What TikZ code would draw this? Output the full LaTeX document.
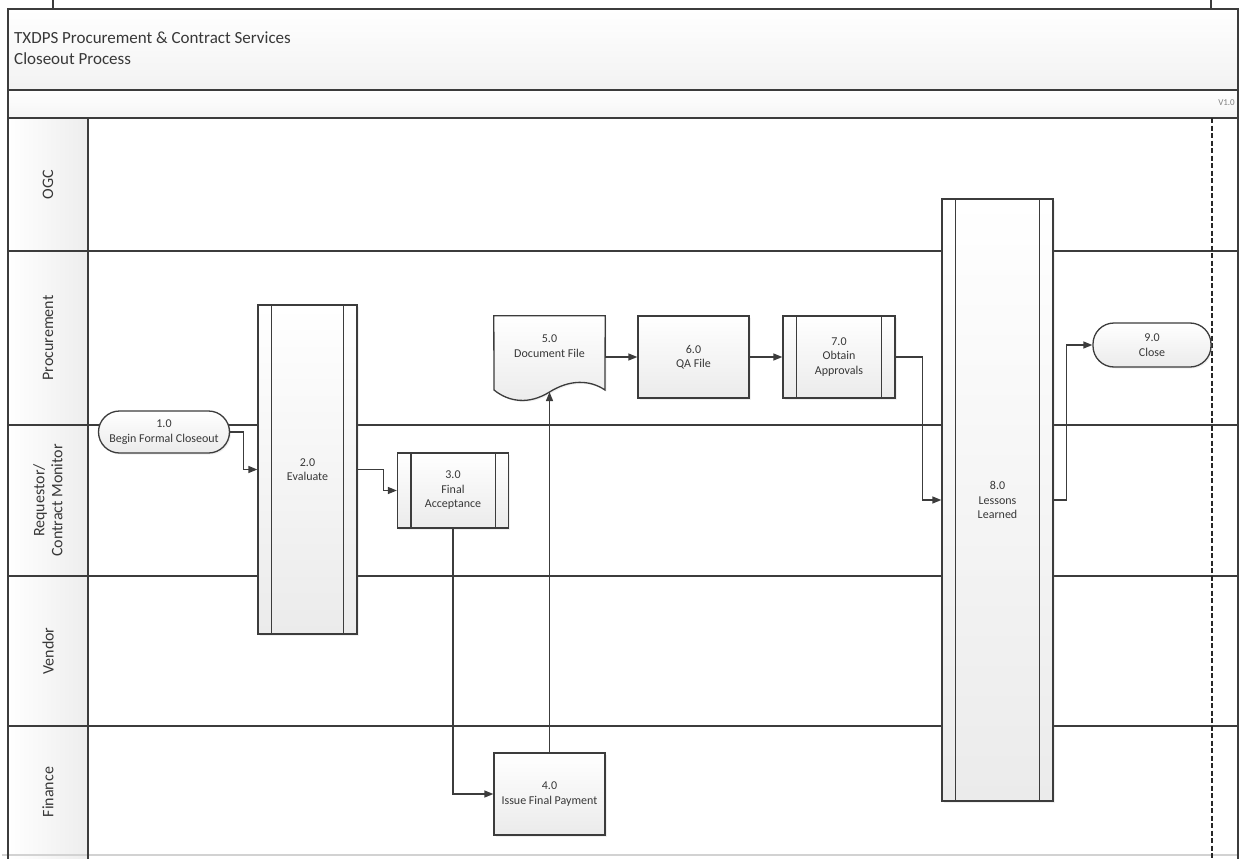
\documentclass[tikz,border=0pt]{standalone}
\usepackage{fontspec}
\setmainfont{Carlito}
\usetikzlibrary{arrows.meta,shapes.misc,shadows,calc}
\definecolor{ln}{HTML}{3C3C3C}
\definecolor{tx}{HTML}{383838}
\definecolor{sh}{HTML}{EBEBEB}
\begin{document}
\begin{tikzpicture}[x=1pt,y=-1pt,
  ln/.style={draw=ln, line width=1.3pt},
  arr/.style={ln, -{Triangle[length=9pt,width=7pt]}},
  box/.style={draw=ln, line width=1.3pt, top color=white, bottom color=sh,
    align=center, font=\fontsize{12}{14.5}\selectfont, text=tx, inner sep=0pt,
    drop shadow={opacity=.12, shadow xshift=1.5pt, shadow yshift=-1.5pt}},
  term/.style={box, rounded corners=21pt},
  sub/.style={box},
  lane/.style={rotate=90, align=center, font=\fontsize{16}{18}\selectfont, text=tx},
  txt/.style={align=center, font=\fontsize{12}{14.5}\selectfont, text=tx}
]
\useasboundingbox (0,0) rectangle (1239,859);

% backgrounds
\fill[top color=white, bottom color=gray!10] (8,9) rectangle (1238,90);
\fill[top color=white, bottom color=gray!8] (8,90) rectangle (1238,118);
\fill[left color=white, right color=gray!14] (8,118) rectangle (88,859);

% bottom light line
\draw[gray!35, line width=1.3pt] (2,855) -- (1239,855);

% frame and lanes
\draw[ln] (8,859) -- (8,9) -- (1238,9) -- (1238,859);
\draw[ln] (8,90) -- (1238,90);
\draw[ln] (8,118) -- (1238,118);
\draw[ln] (88,118) -- (88,859);
\foreach \yy in {251,425,576,726} \draw[ln] (8,\yy) -- (1238,\yy);
\draw[ln] (53,0) -- (53,9);
\draw[ln] (1211,0) -- (1211,9);
\draw[draw=black!85, line width=1.3pt, dash pattern=on 5pt off 2.5pt] (1212,118) -- (1212,859);

% titles
\node[anchor=base west, font=\fontsize{17}{20}\selectfont, text=tx, inner sep=0pt] (t1) at (14,44) {TXDPS Procurement \& Contract Services};
\node[anchor=base west, font=\fontsize{17}{20}\selectfont, text=tx, inner sep=0pt] (t2) at (14,64) {Closeout Process};
\node[anchor=east, font=\fontsize{9}{10}\selectfont, text=gray, inner sep=0pt] (ver) at (1235,103) {V1.0};

% lane labels
\node[lane] (l1) at (48,184.5) {OGC};
\node[lane] (l2) at (48,338) {Procurement};
\node[lane] (l3) at (48,500.5) {Requestor/\\Contract Monitor};
\node[lane] (l4) at (48,651) {Vendor};
\node[lane] (l5) at (48,792) {Finance};

% shapes
\node[term, minimum width=131pt, minimum height=42pt] (n1) at (164,432) {1.0\\Begin Formal Closeout};
\node[sub, minimum width=99pt, minimum height=329pt] (n2) at (307.5,469.5) {2.0\\Evaluate};
\node[sub, minimum width=111pt, minimum height=75pt] (n3) at (453,490.5) {3.0\\Final\\Acceptance};
\node[box, minimum width=111pt, minimum height=82pt] (n4) at (549.5,794) {4.0\\Issue Final Payment};
\node[minimum width=111pt, minimum height=82pt, inner sep=0pt] (n5) at (549.5,357) {};
\fill[gray!45, opacity=.25] (495.5,317.5) -- (606.5,317.5) -- (606.5,391.5)
  .. controls (591,381) and (571,381) .. (551,393.5)
  .. controls (531,406) and (511,404) .. (495.5,391.5) -- cycle;
\path[ln, top color=white, bottom color=sh] (n5.north west) -- (n5.north east) -- (605,390)
  .. controls (589.5,379.5) and (569.5,379.5) .. (549.5,392) coordinate (d5b)
  .. controls (529.5,404.5) and (509.5,402.5) .. (494,390) -- cycle;
\node[txt] (n5t) at (549.5,346) {5.0\\Document File};
\node[box, minimum width=111pt, minimum height=82pt] (n6) at (693.5,357) {6.0\\QA File};
\node[sub, minimum width=112pt, minimum height=82pt] (n7) at (839,357) {7.0\\Obtain\\Approvals};
\node[sub, minimum width=111pt, minimum height=602pt] (n8) at (997.5,500) {8.0\\Lessons\\Learned};
\node[term, minimum width=118pt, minimum height=44pt] (n9) at (1152,345) {9.0\\Close};

\foreach \n in {n2,n3,n7,n8} {
  \draw[ln] ([xshift=14pt]\n.north west) -- ([xshift=14pt]\n.south west);
  \draw[ln] ([xshift=-14pt]\n.north east) -- ([xshift=-14pt]\n.south east);
}

% connectors
\draw[arr] (n1.east) -- ++(13,0) |- (n2.west);
\draw[arr] (n2.east) -- ++(26,0) |- (n3.west);
\draw[arr] (n3.south) |- (n4.west);
\draw[arr] (n4.north) -- (d5b);
\draw[arr] (n5.east) -- (n6.west);
\draw[arr] (n6.east) -- (n7.west);
\draw[arr] (n7.east) -- ++(27,0) |- (n8.west);
\draw[arr] (n8.east) -- ++(13,0) |- (n9.west);
\end{tikzpicture}
\end{document}
